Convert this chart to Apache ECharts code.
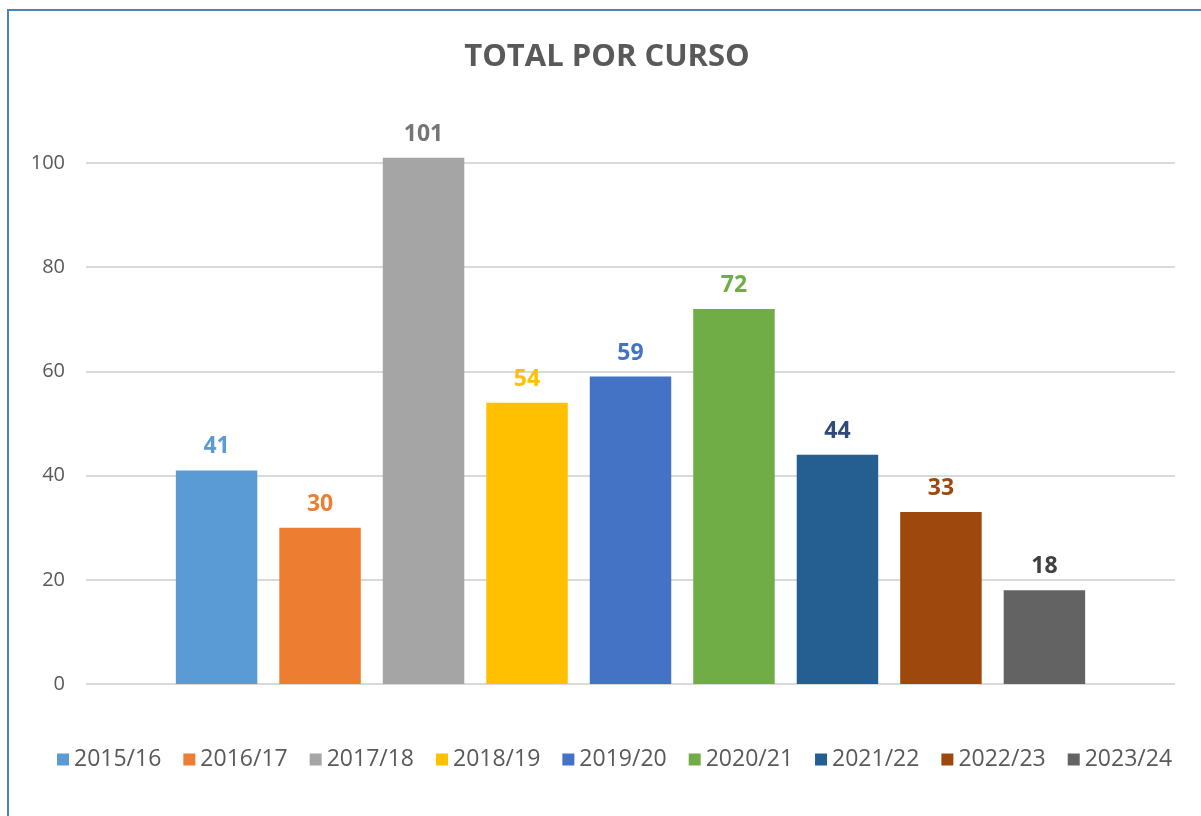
<!DOCTYPE html>
<html>
<head>
<meta charset="utf-8">
<script src="https://cdn.jsdelivr.net/npm/echarts@6/dist/echarts.min.js"></script>
<style>
    html, body { margin: 0; padding: 0; background: #fff; }
    #frame { position: absolute; left: 7px; top: 9px; width: 1194px; height: 807px; border-left: 2px solid #4f81bd; border-top: 2px solid #4f81bd; box-sizing: border-box; }
    #chart { position: absolute; left: 0; top: 0; width: 1201px; height: 816px; }
</style>
</head>
<body>
<div id="frame"></div>
<div id="chart"></div>
<script>
const cursos = ['2015/16', '2016/17', '2017/18', '2018/19', '2019/20', '2020/21', '2021/22', '2022/23', '2023/24'];
const totales = [41, 30, 101, 54, 59, 72, 44, 33, 18];
const barColors = ['#5b9bd5', '#ed7d31', '#a5a5a5', '#ffc000', '#4472c4', '#70ad47', '#255e91', '#9e480e', '#636363'];
const labelColors = ['#5b9bd5', '#ed7d31', '#757575', '#ffc000', '#4472c4', '#70ad47', '#2f4a7a', '#9e480e', '#404040'];
const yTicks = [0, 20, 40, 60, 80, 100];

const fontFam = '"Open Sans", "Liberation Sans", sans-serif';

const series = cursos.map(function (c, i) {
    return {
        name: c,
        type: 'bar',
        data: [totales[i]],
        barGap: '27%',
        barCategoryGap: '16.5%',
        clip: false,
        itemStyle: { color: barColors[i] },
        label: {
            show: true,
            position: 'top',
            distance: 12,
            color: labelColors[i],
            fontSize: 23,
            fontWeight: 'bold',
            fontFamily: fontFam
        }
    };
});

const chart = echarts.init(document.getElementById('chart'));
chart.setOption({
    animation: false,
    title: {
        text: 'TOTAL POR CURSO',
        left: 602,
        top: 37,
        textAlign: 'center',
        textStyle: { color: '#595959', fontSize: 31, fontWeight: 'bold', fontFamily: fontFam }
    },
    legend: {
        data: cursos,
        bottom: 40,
        left: 52,
        itemWidth: 12,
        itemHeight: 12,
        itemGap: 22,
        icon: 'rect',
        textStyle: { color: '#595959', fontSize: 23, fontFamily: fontFam }
    },
    grid: { left: 86, right: 26, top: 163, bottom: 132, containLabel: false },
    xAxis: {
        type: 'category',
        data: ['Total'],
        axisLine: { show: false },
        axisTick: { show: false },
        axisLabel: { show: false }
    },
    yAxis: {
        type: 'value',
        min: yTicks[0],
        max: yTicks[yTicks.length - 1],
        interval: 20,
        axisLine: { show: false },
        axisTick: { show: false },
        axisLabel: { color: '#595959', fontSize: 20, fontFamily: fontFam, margin: 21 },
        splitLine: { lineStyle: { color: '#d9d9d9', width: 2 } }
    },
    series: series
});
</script>
</body>
</html>
